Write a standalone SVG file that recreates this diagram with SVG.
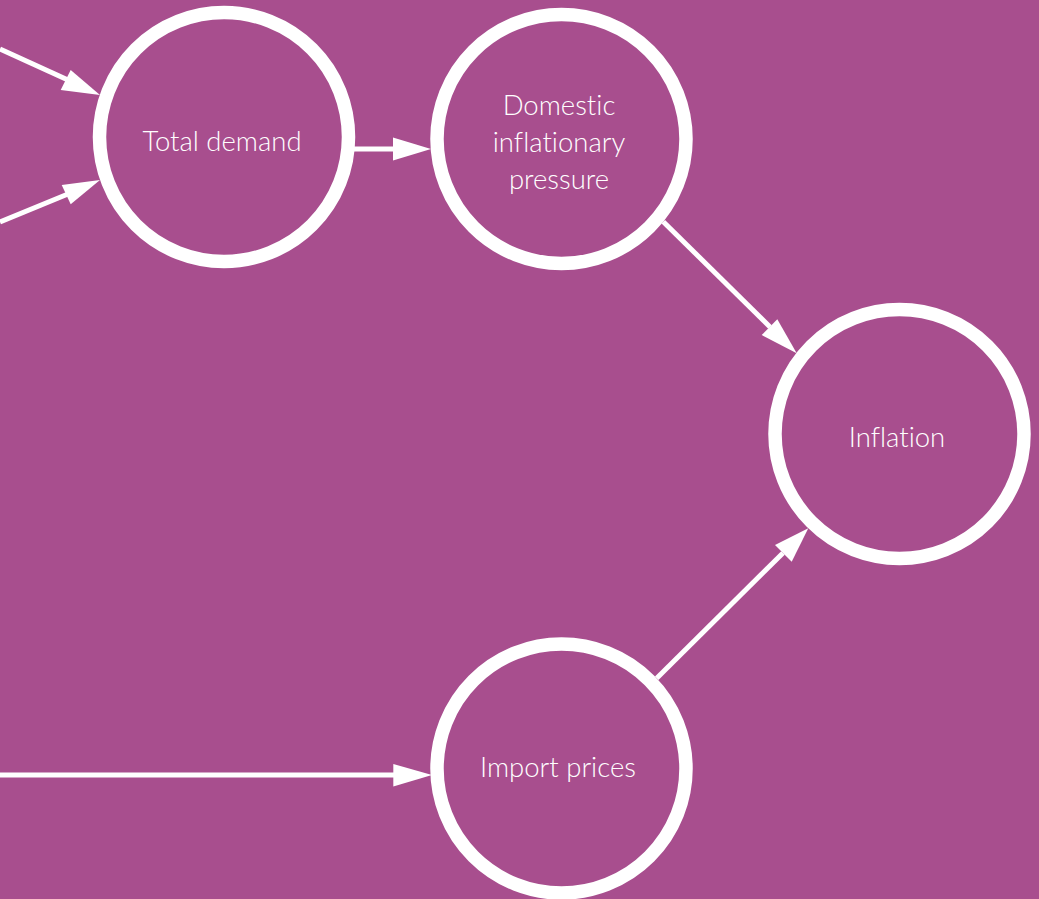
<svg xmlns="http://www.w3.org/2000/svg" width="1039" height="899" viewBox="0 0 1039 899">
  <defs>
    <style>
      .node { fill: none; stroke: #ffffff; stroke-width: 13.5; }
      .lbl { fill: #ffffff; font-family: Lato, "Liberation Sans", sans-serif; font-size: 27.5px; font-weight: 300; text-anchor: middle; font-variant-ligatures: none; }
      .edge { stroke: #ffffff; stroke-width: 5; fill: none; }
      .head { fill: #ffffff; }
    </style>
  </defs>
  <rect x="0" y="0" width="1039" height="899" fill="#a84e8e"/>

  <g id="connectors">
    <line class="edge" x1="0" y1="49" x2="68" y2="80"/>
    <polygon class="head" points="100,95 60.7,90 70.7,70"/>
    <line class="edge" x1="0" y1="222" x2="68" y2="194"/>
    <polygon class="head" points="100,180 61.7,185 70.7,204.3"/>
    <line class="edge" x1="354" y1="149" x2="395" y2="149"/>
    <polygon class="head" points="431,149 393,137.5 393,160.5"/>
    <line class="edge" x1="663.3" y1="221.7" x2="770" y2="327"/>
    <polygon class="head" points="796.7,353.3 761.7,335 777.3,319.3"/>
    <line class="edge" x1="656.7" y1="678.3" x2="783" y2="553"/>
    <polygon class="head" points="808.3,528.3 775,545 791.7,561.7"/>
    <line class="edge" x1="0" y1="775" x2="395" y2="775"/>
    <polygon class="head" points="432,775 393.3,764 393.3,786.5"/>
  </g>

  <g id="total-demand">
    <circle class="node" cx="224" cy="137" r="124.5"/>
    <text class="lbl" x="222" y="151">Total demand</text>
  </g>

  <g id="domestic-inflationary-pressure">
    <circle class="node" cx="561.5" cy="139" r="124.5"/>
    <text class="lbl" x="559" y="115">Domestic</text>
    <text class="lbl" x="559" y="152">inflationary</text>
    <text class="lbl" x="559" y="189">pressure</text>
  </g>

  <g id="inflation">
    <circle class="node" cx="899.5" cy="434" r="124.5"/>
    <text class="lbl" x="897" y="447">Inflation</text>
  </g>

  <g id="import-prices">
    <circle class="node" cx="561.5" cy="768.5" r="124.5"/>
    <text class="lbl" x="558" y="777">Import prices</text>
  </g>
</svg>
